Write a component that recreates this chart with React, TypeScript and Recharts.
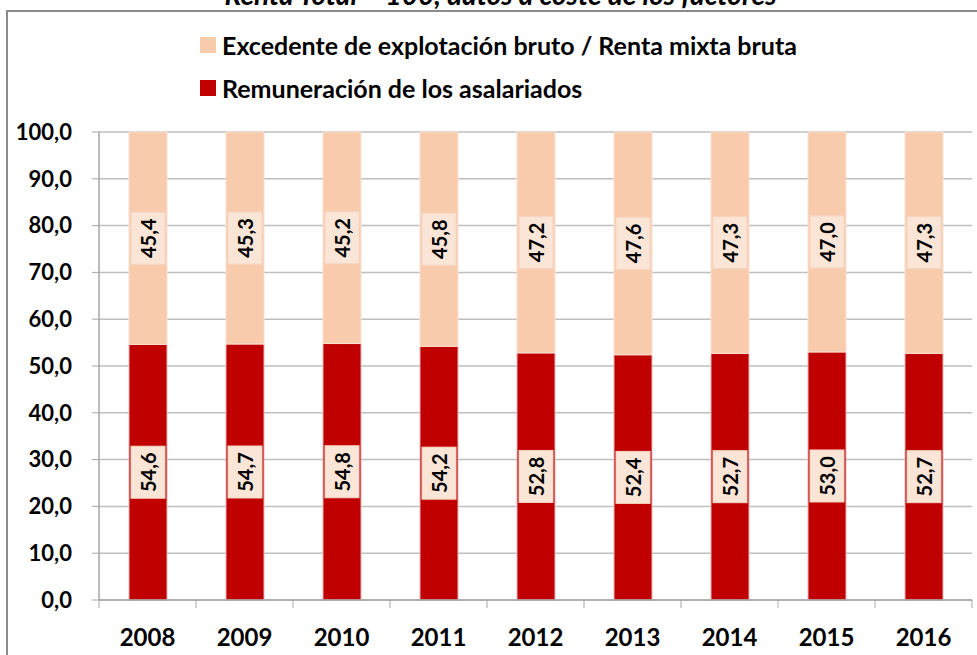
import React from "react";
import {
  BarChart,
  Bar,
  XAxis,
  YAxis,
  CartesianGrid,
  LabelList,
} from "recharts";

const years = ["2008", "2009", "2010", "2011", "2012", "2013", "2014", "2015", "2016"];
const remuneracion = [54.6, 54.7, 54.8, 54.2, 52.8, 52.4, 52.7, 53.0, 52.7];
const excedente = [45.4, 45.3, 45.2, 45.8, 47.2, 47.6, 47.3, 47.0, 47.3];
const yTicks = [0, 10, 20, 30, 40, 50, 60, 70, 80, 90, 100];

const seriesNames = {
  exc: "Excedente de explotación bruto / Renta mixta bruta",
  rem: "Remuneración de los asalariados",
};
const titleText = "Renta Total = 100, datos a coste de los factores";

const data = years.map((y, i) => ({ year: y, rem: remuneracion[i], exc: excedente[i] }));

const FONT = "Lato, 'Open Sans', sans-serif";
const fmt = (v: number) => Number(v).toFixed(1).replace(".", ",");

const BoxLabel = (props: any) => {
  const { x, y, width, height, value } = props;
  const cx = Number(x) + Number(width) / 2;
  const cy = Number(y) + Number(height) / 2;
  const bw = 34;
  const bh = 52;
  return (
    <g>
      <rect x={cx - bw / 2} y={cy - bh / 2} width={bw} height={bh} fill="#FBE5D6" stroke="#F5D6C4" strokeWidth={1} />
      <text
        x={cx}
        y={cy}
        transform={`rotate(-90 ${cx} ${cy})`}
        textAnchor="middle"
        dominantBaseline="central"
        fontFamily={FONT}
        fontWeight={700}
        fontSize={20}
        fill="#000"
      >
        {fmt(value)}
      </text>
    </g>
  );
};

const XTick = (props: any) => {
  const { x, y, payload, width, index, visibleTicksCount } = props;
  const half =
    payload && typeof payload.offset === "number" && payload.offset > 0
      ? payload.offset
      : Number(width) / (years.length * 2);
  const count = visibleTicksCount || years.length;
  return (
    <g>
      <line x1={x - half} y1={y - 8} x2={x - half} y2={y} stroke="#A6A6A6" strokeWidth={1} />
      {index === count - 1 ? (
        <line x1={x + half} y1={y - 8} x2={x + half} y2={y} stroke="#A6A6A6" strokeWidth={1} />
      ) : null}
      <text
        x={x}
        y={y + 38}
        textAnchor="middle"
        fontFamily={FONT}
        fontWeight={700}
        fontSize={24}
        fill="#000"
      >
        {payload.value}
      </text>
    </g>
  );
};

const legendItems = [
  { name: seriesNames.exc, color: "#F8CBAD" },
  { name: seriesNames.rem, color: "#C00000" },
];

export default function App() {
  return (
    <div style={{ position: "absolute", left: 0, top: 0, width: 977, height: 655, overflow: "hidden", background: "#fff" }}>
      <div
        style={{
          position: "absolute",
          left: 6,
          top: 10,
          width: 1100,
          height: 800,
          border: "2px solid #8C8C8C",
          boxSizing: "border-box",
        }}
      />
      <div
        style={{
          position: "absolute",
          left: 0,
          width: 977,
          top: -21,
          textAlign: "center",
          fontFamily: FONT,
          fontStyle: "italic",
          fontWeight: 700,
          fontSize: 28,
          lineHeight: "30px",
          paddingLeft: 24,
          boxSizing: "border-box",
          color: "#000",
          whiteSpace: "nowrap",
        }}
      >
        {titleText}
      </div>
      <div
        style={{
          position: "absolute",
          left: 200,
          top: 23,
          fontFamily: FONT,
          fontWeight: 700,
          fontSize: 25,
          color: "#000",
          whiteSpace: "nowrap",
        }}
      >
        {legendItems.map((it) => (
          <div key={it.name} style={{ display: "flex", alignItems: "center", height: 43 }}>
            <span style={{ display: "inline-block", width: 16, height: 16, background: it.color, marginRight: 6 }} />
            <span>{it.name}</span>
          </div>
        ))}
      </div>
      <div style={{ position: "absolute", left: 0, top: 0 }}>
        <BarChart width={977} height={655} data={data} margin={{ top: 132, right: 5, left: 0, bottom: 0 }} barSize={38}>
          <CartesianGrid vertical={false} stroke="#BFBFBF" strokeWidth={1.5} />
          <XAxis
            dataKey="year"
            axisLine={{ stroke: "#A6A6A6", strokeWidth: 1.5 }}
            tickLine={false}
            tick={<XTick />}
            interval={0}
            height={55}
          />
          <YAxis
            domain={[0, 100]}
            ticks={yTicks}
            width={99}
            tickFormatter={fmt}
            axisLine={{ stroke: "#A6A6A6", strokeWidth: 1.5 }}
            tickLine={{ stroke: "#A6A6A6" }}
            tickSize={7}
            tickMargin={20}
            tick={{ fontFamily: FONT, fontWeight: 700, fontSize: 22, fill: "#000" }}
          />
          <Bar dataKey="rem" name={seriesNames.rem} stackId="a" fill="#C00000" stroke="#E8B4B4" strokeWidth={1} isAnimationActive={false}>
            <LabelList dataKey="rem" content={<BoxLabel />} />
          </Bar>
          <Bar dataKey="exc" name={seriesNames.exc} stackId="a" fill="#F8CBAD" stroke="#FBE0D0" strokeWidth={1} isAnimationActive={false}>
            <LabelList dataKey="exc" content={<BoxLabel />} />
          </Bar>
        </BarChart>
      </div>
    </div>
  );
}
